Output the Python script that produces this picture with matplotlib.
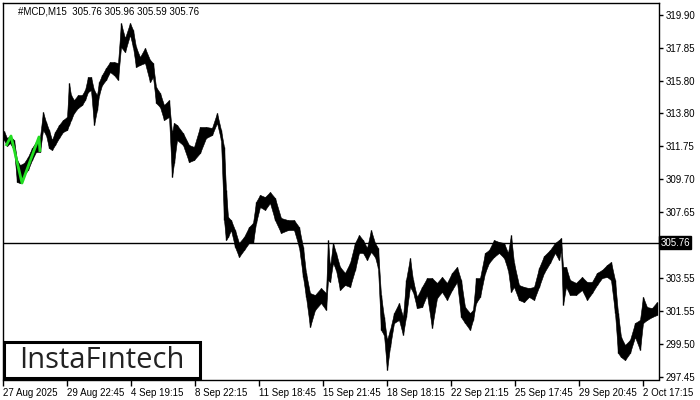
import matplotlib
matplotlib.use("Agg")
import matplotlib.pyplot as plt
from matplotlib.patches import Rectangle

symbol_text = "#MCD,M15  305.76 305.96 305.59 305.76"
level_price = 305.76

bar_index = [1, 4, 7, 11, 14, 17, 21, 25, 29, 33, 37, 40, 43, 46, 49, 52, 56, 60, 64, 66,
             68, 71, 75, 79, 82, 85, 88, 91, 94, 96, 99, 103, 107, 111, 115, 118, 122, 127, 130, 133,
             137, 142, 147, 150, 153, 157, 161, 166, 169, 171, 174, 180, 186, 191, 197, 203, 209, 214, 218, 221,
             223, 225, 228, 232, 236, 241, 246, 250, 253, 257, 262, 267, 272, 278, 285, 291, 296, 300, 303, 307,
             312, 318, 323, 325, 327, 330, 333, 337, 342, 347, 352, 356, 360, 364, 368, 372, 375, 378, 381, 384,
             387, 391, 396, 400, 403, 407, 410, 414, 419, 424, 429, 434, 439, 444, 449, 454, 458, 462, 467, 470,
             473, 477, 482, 486, 491, 496, 501, 505, 508, 511, 516, 521, 526, 531, 536, 541, 547, 552, 556, 558,
             560, 563, 567, 573, 579, 584, 589, 594, 599, 604, 608, 612, 615, 618, 622, 627, 632, 637, 640, 644,
             649, 654]

high = [312.70, 312.26, 312.39, 312.14, 310.90, 310.59, 310.71, 311.09, 311.64, 312.02, 312.33, 313.88, 313.26, 312.76, 312.14, 312.64, 313.07, 313.38, 313.57, 315.68,
        314.93, 314.62, 314.93, 314.93, 315.24, 316.05, 316.05, 315.24, 314.93, 315.74, 316.17, 316.61, 316.98, 316.98, 316.92, 319.40, 318.47, 319.40, 318.97, 317.91,
        317.29, 317.85, 317.11, 316.92, 315.43, 315.06, 314.31, 314.62, 312.57, 313.20, 313.07, 312.57, 311.83, 311.71, 312.95, 312.95, 312.89, 313.82, 312.76, 311.71,
        309.04, 307.36, 307.17, 306.55, 305.75, 306.12, 306.74, 306.99, 308.29, 308.73, 308.60, 308.91, 308.54, 307.30, 307.17, 307.17, 306.74, 305.50, 303.89, 302.64,
        302.52, 302.95, 302.64, 305.93, 304.26, 305.75, 305.13, 304.26, 303.89, 304.51, 305.75, 306.24, 305.93, 305.44, 306.55, 305.75, 305.44, 302.52, 301.15, 299.73,
        300.35, 301.40, 302.02, 301.15, 303.45, 304.82, 303.45, 302.40, 303.02, 303.57, 303.57, 303.27, 303.64, 303.27, 303.89, 304.26, 303.45, 301.77, 301.40, 301.59,
        303.57, 303.57, 305.13, 305.31, 305.93, 305.81, 305.75, 305.13, 306.24, 304.51, 303.14, 303.02, 302.95, 303.02, 304.20, 304.94, 305.31, 305.75, 305.93, 306.06,
        304.26, 304.26, 303.45, 303.27, 303.64, 303.33, 303.33, 303.89, 304.07, 304.38, 304.57, 303.45, 301.40, 299.91, 299.42, 299.73, 300.78, 300.97, 302.40, 301.77,
        301.71, 302.08]

low = [312.14, 311.77, 311.95, 311.52, 309.53, 309.47, 309.97, 310.28, 310.90, 311.40, 311.40, 312.76, 312.45, 311.64, 311.52, 311.83, 312.26, 312.64, 312.76, 313.07,
       313.38, 313.82, 314.13, 314.31, 314.62, 315.12, 315.24, 313.07, 314.00, 314.93, 315.55, 315.87, 316.36, 316.17, 315.87, 317.91, 317.60, 318.66, 317.91, 316.67,
       316.80, 316.92, 315.74, 316.05, 314.44, 314.19, 313.38, 313.57, 309.84, 310.71, 312.14, 311.83, 310.77, 310.90, 311.33, 312.26, 312.45, 313.20, 312.14, 307.17,
       305.93, 306.12, 306.55, 305.50, 304.88, 305.31, 305.75, 305.75, 306.99, 307.98, 307.80, 308.23, 307.17, 306.37, 306.55, 306.55, 305.50, 303.64, 302.40, 300.53,
       301.59, 302.02, 301.59, 303.45, 303.33, 304.51, 304.07, 302.83, 303.14, 303.02, 304.07, 305.13, 305.13, 304.69, 305.19, 304.88, 304.20, 300.35, 300.04, 297.86,
       299.29, 300.78, 300.97, 300.04, 301.15, 303.02, 302.71, 301.71, 301.77, 302.52, 300.47, 302.33, 302.71, 302.21, 302.83, 303.33, 301.15, 300.78, 300.35, 300.97,
       302.02, 302.40, 303.89, 304.51, 304.88, 305.13, 304.82, 304.07, 302.71, 303.02, 302.21, 302.08, 302.40, 302.21, 303.02, 303.89, 304.51, 305.13, 304.69, 305.31,
       301.90, 303.02, 302.52, 302.52, 302.83, 302.21, 302.64, 303.14, 303.57, 303.64, 303.45, 301.40, 298.92, 298.67, 298.48, 298.92, 299.91, 299.11, 300.78, 300.97,
       301.15, 301.28]

pattern_index = [3, 8, 19, 36, 37]
pattern_price = [311.77, 312.39, 309.47, 312.33, 311.40]

price_ticks = [319.90, 317.85, 315.80, 313.80, 311.75, 309.70, 307.65, 303.55, 301.55, 299.50, 297.45]
time_tick_index = [0, 64, 128, 192, 256, 320, 384, 448, 512, 576, 640]
time_tick_labels = ["27 Aug 2025", "29 Aug 22:45", "4 Sep 19:15", "8 Sep 22:15", "11 Sep 18:45",
                    "15 Sep 21:45", "18 Sep 18:15", "22 Sep 21:15", "25 Sep 17:45", "29 Sep 20:45",
                    "2 Oct 17:15"]

W, H = 700, 400
fig = plt.figure(figsize=(7, 4), dpi=100)
fig.patch.set_facecolor("white")
ax = fig.add_axes([3 / W, (H - 379.5) / H, 656 / W, 376.5 / H])
ax.set_xlim(0, 656)
ax.set_ylim(297.274, 320.645)
for s in ax.spines.values():
    s.set_color("black")
    s.set_linewidth(1.0)

ax.fill_between(bar_index, low, high, color="black", linewidth=0.4, edgecolor="black")
ax.vlines(bar_index, low, high, color="black", linewidth=1.0)
ax.plot(pattern_index, pattern_price, color="#22dd22", linewidth=2.0, solid_capstyle="butt")
ax.axhline(level_price, color="black", linewidth=1.0)

font = "Liberation Sans"
ax.yaxis.tick_right()
ax.set_yticks(price_ticks)
ax.set_yticklabels([f"{v:.2f}" for v in price_ticks], fontsize=7, family=font)
ax.tick_params(axis="y", length=3, width=1, pad=2, direction="out")
ax.set_xticks(time_tick_index)
ax.set_xticklabels(time_tick_labels, fontsize=7, family=font, ha="left")
ax.tick_params(axis="x", length=4, width=1, pad=2, direction="out")

ax.text(1.002, level_price, f"{level_price:.2f}", transform=ax.get_yaxis_transform(),
        fontsize=7, family=font, color="white", va="center", ha="left",
        bbox=dict(boxstyle="square,pad=0.15", fc="black", ec="black"))

fig.text(18 / W, 1 - 11 / H, symbol_text, fontsize=7, family=font, color="black", va="center", ha="left")

fig.patches.append(Rectangle((4 / W, (H - 378) / H), 196 / W, 36 / H, transform=fig.transFigure,
                             fill=False, edgecolor="black", linewidth=2.2))
fig.text(102 / W, 1 - 360 / H, "InstaFıntech", fontsize=21, family="Open Sans", color="#222222",
         va="center", ha="center", fontweight="medium")

fig.savefig("out.png", dpi=100)
